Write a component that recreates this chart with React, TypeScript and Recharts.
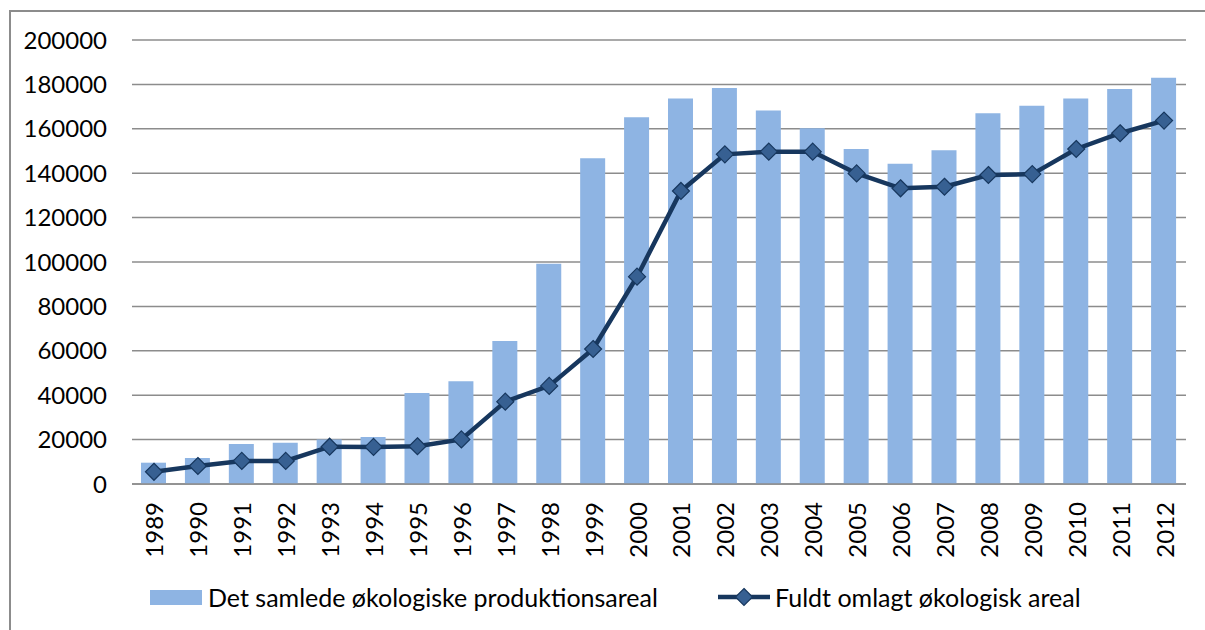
import React from 'react';
import { ComposedChart, Bar, Line, XAxis, YAxis, CartesianGrid, Legend } from 'recharts';

const years = [
  '1989', '1990', '1991', '1992', '1993', '1994', '1995', '1996', '1997', '1998', '1999', '2000',
  '2001', '2002', '2003', '2004', '2005', '2006', '2007', '2008', '2009', '2010', '2011', '2012',
];

// Det samlede økologiske produktionsareal
const totalArea = [
  9600, 11700, 18000, 18600, 20100, 21200, 41000, 46300, 64400, 99200, 146700, 165200,
  173600, 178400, 168200, 160200, 150900, 144300, 150300, 167000, 170400, 173600, 177900, 183000,
];

// Fuldt omlagt økologisk areal
const convertedArea = [
  5500, 8100, 10400, 10400, 16800, 16700, 17000, 20100, 37100, 44200, 60800, 93400,
  132000, 148500, 149700, 149700, 139900, 133200, 133900, 139200, 139600, 150900, 158000, 163700,
];

const yTicks = [0, 20000, 40000, 60000, 80000, 100000, 120000, 140000, 160000, 180000, 200000];

const barName = 'Det samlede økologiske produktionsareal';
const lineName = 'Fuldt omlagt økologisk areal';

const data = years.map((year, i) => ({
  year,
  total: totalArea[i],
  converted: convertedArea[i],
}));

const FONT = "Lato, 'Open Sans', sans-serif";
const BAR_COLOR = '#8EB4E3';
const LINE_COLOR = '#17375E';
const MARKER_FILL = '#376092';

const Diamond = (props: any) => {
  const { cx, cy } = props;
  if (cx == null || cy == null) return null;
  const r = 8.5;
  return (
    <polygon
      points={`${cx},${cy - r} ${cx + r},${cy} ${cx},${cy + r} ${cx - r},${cy}`}
      fill={MARKER_FILL}
      stroke={LINE_COLOR}
      strokeWidth={1.2}
    />
  );
};

const YearTick = (props: any) => {
  const { x, y, payload } = props;
  return (
    <text
      x={x}
      y={y}
      transform={`rotate(-90 ${x} ${y})`}
      textAnchor="end"
      dominantBaseline="central"
      fontSize={24}
      fontFamily={FONT}
      fill="#000"
    >
      {payload.value}
    </text>
  );
};

const renderLegend = () => (
  <div
    style={{
      display: 'flex',
      alignItems: 'center',
      height: 40,
      paddingLeft: 139,
      fontFamily: FONT,
      fontSize: 25,
      color: '#000',
    }}
  >
    <div style={{ display: 'flex', alignItems: 'center', width: 568 }}>
      <span style={{ display: 'inline-block', width: 52, height: 15, background: BAR_COLOR, marginRight: 6 }} />
      <span>{barName}</span>
    </div>
    <div style={{ display: 'flex', alignItems: 'center' }}>
      <svg width={52} height={20} style={{ marginRight: 5 }}>
        <line x1={0} y1={10} x2={52} y2={10} stroke={LINE_COLOR} strokeWidth={4.5} />
        <Diamond cx={26} cy={10} />
      </svg>
      <span>{lineName}</span>
    </div>
  </div>
);

export default function App() {
  return (
    <div style={{ position: 'fixed', left: 0, top: 0, width: 1205, height: 630, overflow: 'hidden', background: '#fff' }}>
      <div
        style={{
          position: 'absolute',
          left: 9,
          top: 10,
          width: 1300,
          height: 700,
          border: '2px solid #8c8c8c',
        }}
      >
        <ComposedChart
          width={1190}
          height={605}
          data={data}
          margin={{ top: 28, right: 15, left: 0, bottom: 0 }}
        >
          <CartesianGrid vertical={false} stroke="#8c8c8c" strokeWidth={1.5} />
          <XAxis
            dataKey="year"
            height={93}
            interval={0}
            axisLine={{ stroke: '#8c8c8c', strokeWidth: 1.5 }}
            tickLine={false}
            tickSize={0}
            tickMargin={18}
            tick={<YearTick />}
          />
          <YAxis
            width={121}
            domain={[0, 200000]}
            ticks={yTicks}
            axisLine={false}
            tickLine={false}
            tickSize={0}
            tickMargin={25}
            tick={{ fontSize: 24, fontFamily: FONT, fill: '#000' }}
          />
          <Legend verticalAlign="bottom" wrapperStyle={{ height: 40 }} content={renderLegend} />
          <Bar dataKey="total" name={barName} fill={BAR_COLOR} barSize={25} isAnimationActive={false} />
          <Line
            type="linear"
            dataKey="converted"
            name={lineName}
            stroke={LINE_COLOR}
            strokeWidth={4.5}
            dot={<Diamond />}
            activeDot={false}
            isAnimationActive={false}
          />
        </ComposedChart>
      </div>
    </div>
  );
}
